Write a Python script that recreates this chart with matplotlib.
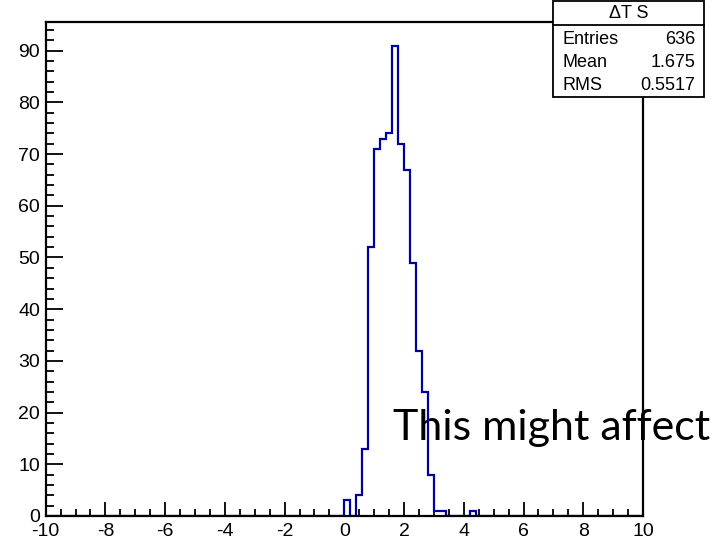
import numpy as np
import matplotlib.pyplot as plt
from matplotlib.patches import Rectangle
from matplotlib.lines import Line2D

plt.rcParams['font.family'] = ['Liberation Sans', 'DejaVu Sans']

# histogram content (bin lower edges, bin width 0.2)
bin_lo = [0.0, 0.4, 0.6, 0.8, 1.0, 1.2, 1.4, 1.6, 1.8, 2.0, 2.2, 2.4, 2.6, 2.8, 3.0, 3.2, 4.2]
counts = [3, 4, 13, 52, 71, 73, 74, 91, 72, 67, 49, 32, 24, 8, 1, 1, 1]

stat_names = ['Entries', 'Mean', 'RMS']
stat_values = ['636', '1.675', '0.5517']
hist_title = '\u0394T S'
overlay_text = 'This might affect'

edges = np.linspace(-10, 10, 101)
full = np.zeros(100)
for lo, c in zip(bin_lo, counts):
	full[int(round((lo + 10) / 0.2))] = c

W, H = 712, 548
fig = plt.figure(figsize=(W / 100, H / 100), dpi=100)
ax = fig.add_axes([45.7 / W, 1 - 516 / H, (643 - 45.7) / W, (516 - 22) / H])

ax.stairs(full, edges, color='#0000a0', linewidth=1.6, zorder=2)
ax.set_xlim(-10, 10)
ax.set_ylim(0, 1.05 * max(counts))

for s in ax.spines.values():
	s.set_linewidth(1.6)
	s.set_zorder(3)

ax.set_xticks(np.arange(-10, 10.1, 2))
ax.set_xticks(np.arange(-10, 10.1, 0.5), minor=True)
ax.set_yticks(np.arange(0, 91, 10))
ax.set_yticks(np.arange(0, 96, 2), minor=True)
ax.tick_params(axis='both', which='both', direction='in', top=False, right=False,
	labelsize=14, width=1.3, colors='black')
ax.tick_params(axis='x', which='major', length=10, pad=5)
ax.tick_params(axis='x', which='minor', length=5)
ax.tick_params(axis='y', which='major', length=12.5, pad=4)
ax.tick_params(axis='y', which='minor', length=6)
ax.set_xticklabels([str(int(v)) for v in np.arange(-10, 10.1, 2)])
ax.set_yticklabels([str(int(v)) for v in np.arange(0, 91, 10)])

# stats box
x0, x1 = 553 / W, 704 / W
y_top, y_bot, y_div = 1 - 0.8 / H, 1 - 97 / H, 1 - 25 / H
fig.patches.append(Rectangle((x0, y_bot), x1 - x0, y_top - y_bot, transform=fig.transFigure,
	facecolor='white', edgecolor='black', linewidth=1.3, zorder=5))
fig.lines.append(Line2D([x0, x1], [y_div, y_div], transform=fig.transFigure, color='black',
	linewidth=1.3, zorder=6))
fig.text((x0 + x1) / 2, 1 - 13 / H, hist_title, ha='center', va='center', fontsize=13, zorder=7)
for i, (n, v) in enumerate(zip(stat_names, stat_values)):
	yy = 1 - (39 + 23.5 * i) / H
	fig.text(562 / W, yy, n, ha='left', va='center', fontsize=13, zorder=7)
	fig.text(695 / W, yy, v, ha='right', va='center', fontsize=13, zorder=7)

# pasted-on text sits under the histogram line and frame
ax.text(393 / W, 1 - 440 / H, overlay_text, ha='left', va='baseline', fontsize=31,
	family=['Lato', 'DejaVu Sans'], color='black', zorder=1,
	transform=fig.transFigure, clip_on=False)

fig.savefig('out.png', dpi=100)
